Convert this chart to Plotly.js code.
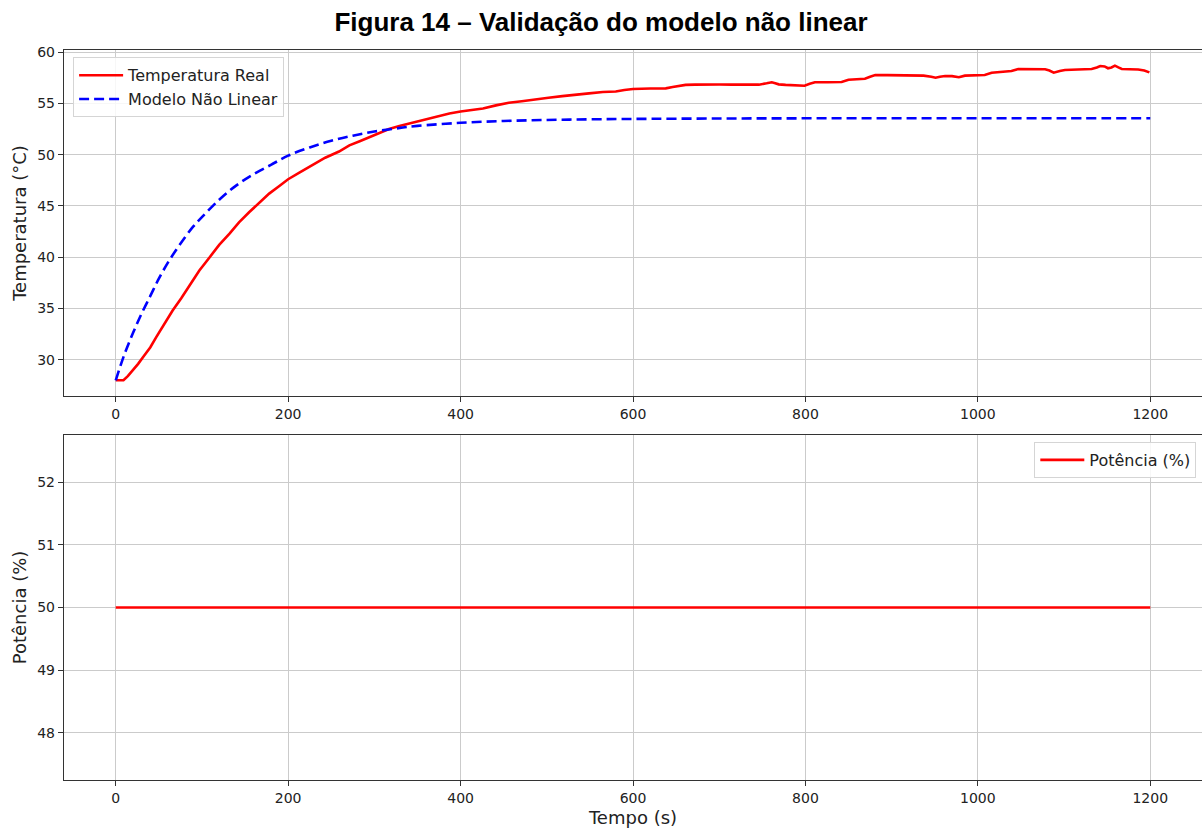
<!DOCTYPE html>
<html>
<head>
<meta charset="utf-8">
<script src="https://cdn.plot.ly/plotly-3.0.1.min.js"></script>
<style>
html,body{margin:0;padding:0;background:#fff;}
#chart{width:1202px;height:829px;}
</style>
</head>
<body>
<div id="chart"></div>
<script>
// ---- Data ----
const tReal = [0, 5, 9, 14, 20, 26, 32, 40, 47, 56, 66, 76, 86, 97, 109, 120, 132, 143, 155, 166, 178, 189, 200, 214, 228, 243, 259, 271, 283, 294, 305, 317, 329, 341, 352, 364, 376, 387, 400, 413, 426, 441, 456, 471, 487, 502, 518, 533, 549, 565, 580, 590, 600, 620, 638, 646, 653, 661, 672, 684, 700, 715, 730, 746, 755, 761, 765, 769, 777, 785, 799, 805, 811, 826, 842, 850, 860, 869, 875, 881, 895, 908, 923, 937, 946, 951, 956, 962, 970, 978, 985, 997, 1008, 1016, 1028, 1039, 1047, 1062, 1078, 1083, 1088, 1095, 1101, 1116, 1132, 1138, 1142, 1147, 1151, 1155, 1159, 1163, 1167, 1176, 1186, 1193, 1199];
const tempReal = [28.0, 28.0, 28.0, 28.4, 28.96, 29.6, 30.3, 31.2, 32.2, 33.5, 34.8, 36.0, 37.3, 38.7, 40.0, 41.2, 42.3, 43.4, 44.4, 45.3, 46.2, 46.9, 47.6, 48.3, 49.0, 49.7, 50.3, 50.9, 51.3, 51.7, 52.1, 52.5, 52.8, 53.05, 53.3, 53.5, 53.75, 54.0, 54.2, 54.35, 54.5, 54.8, 55.05, 55.2, 55.4, 55.55, 55.7, 55.8, 55.97, 56.1, 56.15, 56.3, 56.4, 56.45, 56.46, 56.6, 56.7, 56.8, 56.82, 56.85, 56.83, 56.82, 56.84, 56.82, 56.95, 57.05, 56.95, 56.85, 56.8, 56.75, 56.72, 56.9, 57.05, 57.06, 57.08, 57.3, 57.35, 57.4, 57.6, 57.76, 57.75, 57.73, 57.76, 57.7, 57.6, 57.5, 57.6, 57.67, 57.65, 57.54, 57.7, 57.72, 57.76, 57.99, 58.05, 58.15, 58.35, 58.35, 58.33, 58.2, 57.99, 58.15, 58.25, 58.3, 58.35, 58.5, 58.64, 58.6, 58.42, 58.5, 58.67, 58.5, 58.35, 58.32, 58.3, 58.2, 58.02];

const tModel = [0, 10, 20, 30, 40, 50, 60, 70, 80, 90, 100, 120, 140, 160, 180, 200, 225, 250, 275, 300, 325, 350, 400, 450, 500, 550, 600, 700, 800, 900, 1000, 1100, 1200];
const tempModel = [28.0, 30.5, 32.6, 34.5, 36.2, 37.9, 39.4, 40.7, 41.9, 43.0, 43.9, 45.6, 47.0, 48.1, 49.0, 49.9, 50.7, 51.35, 51.85, 52.25, 52.55, 52.8, 53.1, 53.28, 53.38, 53.44, 53.48, 53.52, 53.54, 53.55, 53.55, 53.55, 53.55];

const tPot = [0, 1200];
const potencia = [50, 50];

const xTicks = [0, 200, 400, 600, 800, 1000, 1200];
const yTicksTemp = [30, 35, 40, 45, 50, 55, 60];
const yTicksPot = [48, 49, 50, 51, 52];

const titleText = "Figura 14 – Validação do modelo não linear";
const xTitle = "Tempo (s)";
const yTitleTemp = "Temperatura (°C)";
const yTitlePot = "Potência (%)";
const nameReal = "Temperatura Real";
const nameModel = "Modelo Não Linear";
const namePot = "Potência (%)";

// ---- Styling ----
const FONT = "DejaVu Sans, sans-serif";
const gridC = "#cbcbcb";
const axC = "#333333";

const traces = [
  {x: tReal, y: tempReal, xaxis: "x", yaxis: "y", type: "scatter", mode: "lines",
   name: nameReal, line: {color: "#ff0000", width: 2.6}, legend: "legend"},
  {x: tModel, y: tempModel, xaxis: "x", yaxis: "y", type: "scatter", mode: "lines",
   name: nameModel, line: {color: "#0000ff", width: 2.6, dash: "10px,5px", shape: "spline"}, legend: "legend"},
  {x: tPot, y: potencia, xaxis: "x2", yaxis: "y2", type: "scatter", mode: "lines",
   name: namePot, line: {color: "#ff0000", width: 2.6}, legend: "legend2"}
];

function xax(anchor, withTitle) {
  const a = {
    anchor: anchor, domain: [0, 1], range: [-60, 1260],
    tickvals: xTicks, ticktext: xTicks.map(String),
    ticks: "outside", ticklen: 5, tickwidth: 1, tickcolor: axC,
    showline: true, linecolor: axC, linewidth: 1.2, mirror: true,
    showgrid: true, gridcolor: gridC, gridwidth: 1, zeroline: false,
    tickfont: {family: FONT, size: 14, color: "#222"}
  };
  if (withTitle) a.title = {text: xTitle, font: {family: FONT, size: 18, color: "#222"}, standoff: 6};
  return a;
}
function yax(anchor, domain, range, ticks, title) {
  return {
    anchor: anchor, domain: domain, range: range,
    tickvals: ticks, ticktext: ticks.map(String),
    ticks: "outside", ticklen: 5, tickwidth: 1, tickcolor: axC,
    showline: true, linecolor: axC, linewidth: 1.2, mirror: false,
    showgrid: true, gridcolor: gridC, gridwidth: 1, zeroline: false,
    tickfont: {family: FONT, size: 14, color: "#222"},
    title: {text: title, font: {family: FONT, size: 18, color: "#222"}, standoff: 5}
  };
}

const layout = {
  width: 1202, height: 829,
  paper_bgcolor: "#fff", plot_bgcolor: "#fff",
  margin: {l: 64, r: 0, t: 50, b: 49},
  title: {text: "<b>" + titleText + "</b>", font: {family: "Liberation Sans, Arial, sans-serif", size: 26, color: "#000"},
          x: 0.5, xanchor: "center", y: 0.973, yanchor: "middle"},
  xaxis: xax("y", false),
  yaxis: yax("x", [0.526, 1], [26.465, 60.2], yTicksTemp, yTitleTemp),
  xaxis2: xax("y2", true),
  yaxis2: yax("x2", [0, 0.4726], [47.25, 52.75], yTicksPot, yTitlePot),
  showlegend: true,
  legend: {x: 0.008, y: 0.99, xanchor: "left", yanchor: "top",
           bgcolor: "rgba(255,255,255,0.85)", bordercolor: "#d5d5d5", borderwidth: 1,
           font: {family: FONT, size: 16, color: "#222"}, itemwidth: 44},
  legend2: {x: 0.995, y: 0.463, xanchor: "right", yanchor: "top",
            bgcolor: "rgba(255,255,255,0.85)", bordercolor: "#d5d5d5", borderwidth: 1,
            font: {family: FONT, size: 16, color: "#222"}, itemwidth: 44}
};

Plotly.newPlot("chart", traces, layout, {staticPlot: true, displayModeBar: false});
</script>
</body>
</html>
